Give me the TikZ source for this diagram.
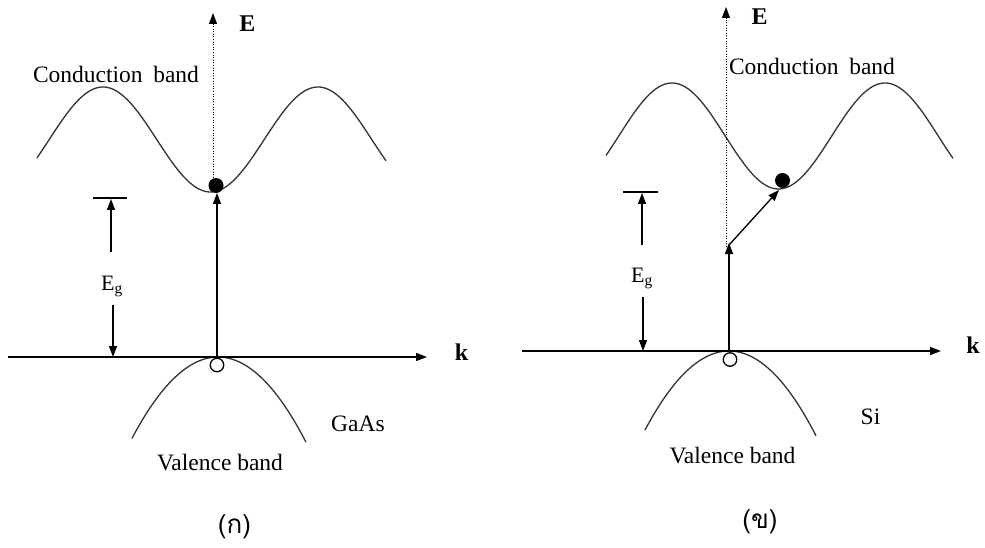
\documentclass[tikz,border=0pt]{standalone}
\usepackage{fontspec}
\setmainfont{Liberation Serif}
\newfontfamily\thaifont[Script=Thai]{Loma}
\usetikzlibrary{arrows.meta}
\begin{document}
\begin{tikzpicture}[x=1pt,y=-1pt,
  band/.style={line width=1.3pt, black!80},
  arr/.style={line width=1.3pt, black, -{Triangle[length=11pt,width=8pt]}},
  dotax/.style={line width=1pt, black, dash pattern=on 1pt off 1.6pt, -{Triangle[length=11pt,width=8pt]}},
  lbl/.style={font=\fontsize{23.5}{26}\selectfont, anchor=base, inner sep=0pt},
  eglbl/.style={font=\fontsize{22}{24}\selectfont, anchor=base, inner sep=0pt},
  axlbl/.style={font=\fontsize{24}{26}\selectfont\bfseries, anchor=base, inner sep=0pt},
  elec/.style={circle, fill=black, inner sep=0pt, minimum size=15pt},
  hole/.style={circle, draw=black, line width=1.3pt, fill=white, inner sep=0pt, minimum size=13.5pt},
  tag/.style={font=\thaifont\fontsize{26}{28}\selectfont, anchor=base, inner sep=0pt}]
\useasboundingbox (0,0) rectangle (985,548);

% ---------------- left panel (GaAs) ----------------
\draw[band] plot[domain=37:386, samples=150, smooth] (\x, {139.5-52.5*cos(1.67442*(\x-103))});
\draw[band] plot[domain=132:306, samples=80, smooth] (\x, {357+0.011*(\x-218)*(\x-218)});

\coordinate (k1s) at (8,357);
\coordinate (k1e) at (427,357);
\draw[arr] (k1s) -- (k1e);
\node[axlbl] (k1) at (461.5,360) {k};

\node[elec] (e1) at (216,185.5) {};
\node[hole] (h1) at (217,365) {};
\coordinate (E1top) at (213,13);
\draw[dotax] (e1.north -| E1top) -- (E1top);
\node[axlbl] (E1) at (247.5,32) {E};

\coordinate (v1b) at (217,357);
\coordinate (v1t) at (217,193);
\draw[arr] (v1b) -- (v1t);

\coordinate (t1a) at (93,198);
\coordinate (t1b) at (127,198);
\draw[line width=1.3pt] (t1a) -- (t1b);
\coordinate (g1u0) at (111,252);
\coordinate (g1u1) at (111,199);
\draw[arr] (g1u0) -- (g1u1);
\node[eglbl] (Eg1) at (112,290) {E\textsubscript{g}};
\coordinate (g1d0) at (113,305);
\coordinate (g1d1) at (113,357);
\draw[arr] (g1d0) -- (g1d1);

\node[lbl] (cb1) at (116,83) {Conduction\hspace{0.45em}band};
\node[lbl] (vb1) at (220,470) {Valence band};
\node[lbl] (gaas) at (358,431) {GaAs};
\node[tag] (tagA) at (234.5,533) {(ก)};

% ---------------- right panel (Si) ----------------
\draw[band] plot[domain=606:953, samples=150, smooth] (\x, {136-53*cos(1.69014*(\x-672))});
\draw[band] plot[domain=645:816, samples=80, smooth] (\x, {351+0.0112*(\x-729)*(\x-729)});

\coordinate (k2s) at (522,351);
\coordinate (k2e) at (941,351);
\draw[arr] (k2s) -- (k2e);
\node[axlbl] (k2) at (973,353) {k};

\node[elec] (e2) at (782.5,180.5) {};
\node[hole] (h2) at (730,359.5) {};
\coordinate (E2bot) at (726,247);
\coordinate (E2top) at (726,7);
\draw[dotax] (E2bot) -- (E2top);
\node[axlbl] (E2) at (759.5,25) {E};

\coordinate (v2b) at (729,351);
\coordinate (v2t) at (729,243);
\draw[arr] (v2b) -- (v2t);
\coordinate (d2b) at (729,245);
\coordinate (d2t) at (779,190);
\draw[arr] (d2b) -- (d2t);

\coordinate (t2a) at (623,192);
\coordinate (t2b) at (658,192);
\draw[line width=1.3pt] (t2a) -- (t2b);
\coordinate (g2u0) at (642,245);
\coordinate (g2u1) at (642,193);
\draw[arr] (g2u0) -- (g2u1);
\node[eglbl] (Eg2) at (642,282) {E\textsubscript{g}};
\coordinate (g2d0) at (643,297);
\coordinate (g2d1) at (643,351);
\draw[arr] (g2d0) -- (g2d1);

\node[lbl] (cb2) at (812,75) {Conduction\hspace{0.45em}band};
\node[lbl] (vb2) at (732.5,463) {Valence band};
\node[lbl] (si) at (870.5,424) {Si};
\node[tag] (tagB) at (760,528) {(ข)};
\end{tikzpicture}
\end{document}
